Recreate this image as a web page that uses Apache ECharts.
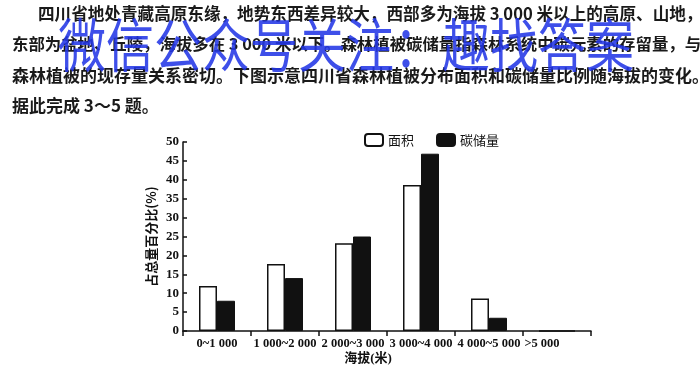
<!DOCTYPE html>
<html><head><meta charset="utf-8">
<script src="https://cdn.jsdelivr.net/npm/echarts@6/dist/echarts.min.js"></script>
<style>html,body{margin:0;padding:0;background:#fff}#c{width:700px;height:390px}</style>
</head><body><div id="c"></div>
<script>
var categories = ['0~1 000', '1 000~2 000', '2 000~3 000', '3 000~4 000', '4 000~5 000', '>5 000'];
var areaValues = [11.9, 17.7, 23.2, 38.6, 8.6, 0];
var carbonValues = [8.0, 14.0, 25.0, 46.9, 3.5, 0];
var seriesNames = ['面积', '碳储量'];
var yTicks = {min: 0, max: 50, interval: 5};
var paragraph = [
  '四川省地处青藏高原东缘，地势东西差异较大，西部多为海拔 3 000 米以上的高原、山地，',
  '东部为盆地、丘陵，海拔多在 3 000 米以下。森林植被碳储量指森林系统中碳元素的存留量，与',
  '森林植被的现存量关系密切。下图示意四川省森林植被分布面积和碳储量比例随海拔的变化。',
  '据此完成 3～5 题。'
];
var watermark = '微信公众号关注：趣找答案';
var yName = '占总量百分比(%)';
var xName = '海拔(米)';

var chart = echarts.init(document.getElementById('c'), null, {renderer: 'canvas'});
var serif = '"Liberation Serif", "Noto Sans CJK SC", serif';
var cjk = '"Noto Sans CJK SC", sans-serif';
var lineX = [38, 12, 12, 12];
var lineY = [14, 45, 76, 106];
var lineSize = [16.6, 16.4, 17, 17];
var graphics = paragraph.map(function (t, i) {
  return {type: 'text', left: lineX[i], top: lineY[i] - 9, z: 1,
    style: {text: t, font: 'bold ' + lineSize[i] + 'px ' + cjk, fill: '#1a1a1a'}};
});
graphics.push({type: 'text', x: 58, y: 16, scaleY: 1.2, z: 10,
  style: {text: watermark, font: '48px ' + cjk, fill: 'rgba(35,55,230,0.88)'}});

chart.setOption({
  backgroundColor: '#ffffff',
  animation: false,
  graphic: graphics,
  title: {text: xName, left: 363, top: 347, textAlign: 'center',
    textStyle: {fontSize: 13, fontWeight: 'bold', color: '#111', fontFamily: serif}},
  legend: {
    left: 359, top: 128, itemWidth: 18, itemHeight: 12, itemGap: 22,
    textStyle: {fontSize: 13, color: '#111', fontFamily: cjk},
    data: seriesNames
  },
  grid: {left: 183, top: 142, right: 109, bottom: 59},
  xAxis: {
    type: 'category',
    data: categories.map(function (c, i) {
      return i === categories.length - 1 ? {value: c, textStyle: {padding: [0, 30, 0, 0]}} : c;
    }),
    axisLine: {lineStyle: {color: '#111', width: 1.5}},
    axisTick: {show: true, length: 5, lineStyle: {color: '#111', width: 1.5}},
    axisLabel: {interval: 0, hideOverlap: false, margin: 7, fontSize: 12.5, fontWeight: 'bold', color: '#111', fontFamily: serif}
  },
  yAxis: {
    type: 'value', min: yTicks.min, max: yTicks.max, interval: yTicks.interval,
    name: yName, nameLocation: 'middle', nameGap: 25, nameRotate: 90, nameMoveOverlap: false,
    nameTextStyle: {fontSize: 13, fontWeight: 'bold', color: '#111', fontFamily: cjk},
    splitLine: {show: false},
    axisLine: {show: true, lineStyle: {color: '#111', width: 1.5}},
    axisTick: {show: true, inside: true, length: 4, lineStyle: {color: '#111', width: 1.5}},
    axisLabel: {margin: 4, fontSize: 13, fontWeight: 'bold', color: '#111', fontFamily: serif}
  },
  series: [
    {name: seriesNames[0], type: 'bar', data: areaValues, barWidth: 18, barGap: '0%',
      itemStyle: {color: '#ffffff', borderColor: '#111', borderWidth: 1.5}},
    {name: seriesNames[1], type: 'bar', data: carbonValues, barWidth: 18,
      itemStyle: {color: '#111', borderColor: '#111', borderWidth: 1}}
  ]
});
</script></body></html>
